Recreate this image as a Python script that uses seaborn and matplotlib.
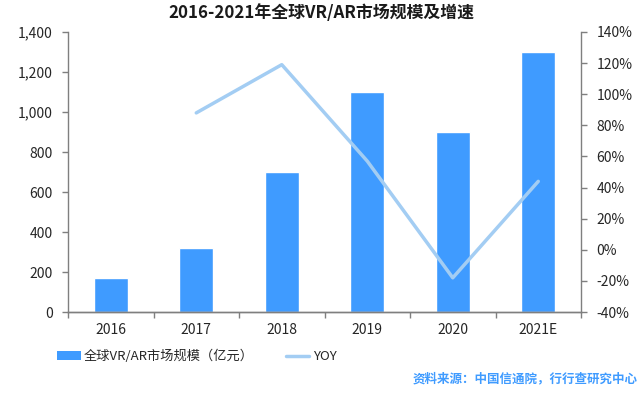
import numpy as np
import pandas as pd
import seaborn as sns
import matplotlib.pyplot as plt
from matplotlib.ticker import FuncFormatter, FixedLocator
from matplotlib.patches import Patch
from matplotlib.lines import Line2D

# datos
years = ['2016', '2017', '2018', '2019', '2020', '2021E']
market = [170, 320, 700, 1100, 900, 1300]
yoy = [np.nan, 88, 119, 57, -18, 44]

bar_color = '#3F9BFF'
line_color = '#A3CDF3'
axis_color = '#7F7F7F'

sns.set_theme(style='white')
plt.rcParams['font.family'] = ['Noto Sans CJK SC', 'DejaVu Sans']
plt.rcParams['axes.unicode_minus'] = False

df = pd.DataFrame({'year': years, 'market': market, 'yoy': yoy})

fig = plt.figure(figsize=(6.43, 3.93), dpi=100)
ax = fig.add_axes([0.1058, 0.206, 0.7978, 0.7126])

sns.barplot(data=df, x='year', y='market', color=bar_color, width=0.4,
            saturation=1, ax=ax)
ax.set_xlim(-0.5, len(years) - 0.5)
ax.set_ylim(0, 1400)
ax.set_yticks(range(0, 1401, 200))
ax.yaxis.set_major_formatter(FuncFormatter(lambda v, p: f'{int(v):,}'))
ax.set_xlabel('')
ax.set_ylabel('')

ax2 = ax.twinx()
sns.lineplot(x=np.arange(len(years)), y=df['yoy'], color=line_color,
             linewidth=2.5, ax=ax2)
ax2.set_ylim(-40, 140)
ax2.set_yticks(range(-40, 141, 20))
ax2.yaxis.set_major_formatter(FuncFormatter(lambda v, p: f'{int(v)}%'))
ax2.set_ylabel('')

for a in (ax, ax2):
    a.spines['top'].set_visible(False)
    for s in ('left', 'right', 'bottom'):
        a.spines[s].set_color(axis_color)
        a.spines[s].set_linewidth(1)
    a.tick_params(axis='y', length=4, width=1, color=axis_color,
                  labelsize=10, labelcolor='#262626', pad=7)
ax.spines['right'].set_visible(False)
ax2.spines['left'].set_visible(False)
ax.yaxis.set_ticks_position('left')
ax2.yaxis.set_ticks_position('right')

ax.tick_params(axis='x', which='major', length=0, labelsize=10,
               labelcolor='#262626', pad=8)
ax.xaxis.set_minor_locator(FixedLocator(np.arange(-0.5, len(years), 1)))
ax.tick_params(axis='x', which='minor', length=4, width=1, color=axis_color,
               direction='out', bottom=True)

fig.suptitle('2016-2021年全球VR/AR市场规模及增速', x=0.5, y=0.99,
             fontsize=12.2, fontweight='bold', color='#1a1a1a')

handles = [Patch(facecolor=bar_color, edgecolor='none'),
           Line2D([0], [0], color=line_color, linewidth=2.5)]
fig.legend(handles, ['全球VR/AR市场规模（亿元）', 'YOY'], loc='center left',
           bbox_to_anchor=(0.07, 0.092), ncol=2, frameon=False, fontsize=9.5,
           handlelength=1.8, handletextpad=0.25, columnspacing=2.4)

fig.text(0.992, 0.035, '资料来源：中国信通院，行行查研究中心', ha='right',
         va='center', fontsize=9, fontweight='bold', color='#3F9BFF')

fig.savefig('out.png', dpi=100)
